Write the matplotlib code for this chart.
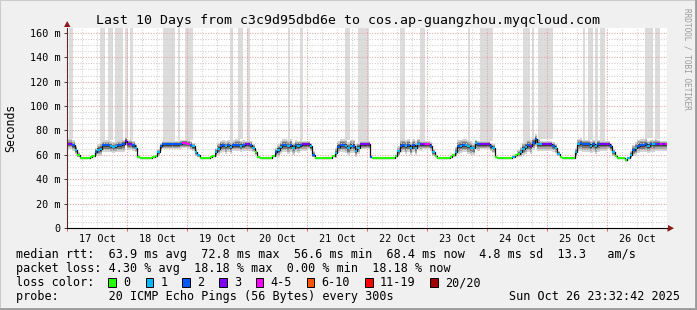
import matplotlib
matplotlib.use("Agg")
import matplotlib.pyplot as plt
from matplotlib.patches import Rectangle, Polygon
import numpy as np

# ---------------- data (hourly, 17 Oct 00:00 -> 27 Oct 00:00) ----------------
day_labels = ["17 Oct", "18 Oct", "19 Oct", "20 Oct", "21 Oct",
              "22 Oct", "23 Oct", "24 Oct", "25 Oct", "26 Oct"]
ytick_values = [0, 20, 40, 60, 80, 100, 120, 140, 160]
ytick_labels = ["0", "20 m", "40 m", "60 m", "80 m", "100 m", "120 m", "140 m", "160 m"]

median_ms = [
    # 17 Oct
    69, 69, 68, 64, 60, 57.5, 57.5, 57.5, 57.5, 58, 59, 62, 64, 65, 68, 68, 68, 67, 66.5, 67, 68, 68, 68.5, 71.5,
    # 18 Oct
    69, 69, 68, 66, 58.5, 57.5, 57.5, 57.5, 57.5, 57.5, 58, 59, 62, 67, 68.5, 68.5, 68.5, 68.5, 68.5, 68.5, 68.5, 69, 69.5, 69.5,
    # 19 Oct
    69, 68, 67, 62, 60, 57.5, 57.5, 57.5, 57.5, 58, 59, 62, 65, 67.5, 68, 67, 68, 66.5, 68, 68, 68, 67.5, 68, 68.5,
    # 20 Oct
    68.5, 68, 66, 62, 58, 57.7, 57.7, 57.7, 57.7, 57.7, 59, 62, 64, 66.5, 68, 68, 67, 68, 66, 68, 67.5, 68, 68.5, 68.5,
    # 21 Oct
    68.5, 67, 60, 57, 57, 57, 57, 57, 57, 57.5, 59, 61.5, 66.5, 68, 68, 67.5, 65.5, 67.5, 67.5, 63.5, 66, 68.5, 68.5, 68.5,
    # 22 Oct
    68.5, 58.5, 57, 57, 57, 57, 57, 57, 57, 57, 57, 59, 63, 67.5, 68, 67, 68, 65.5, 68, 66, 69, 68.5, 68.5, 68.5,
    # 23 Oct
    68.5, 67.5, 62, 59, 57.7, 57.7, 57.7, 57.7, 57.7, 58.5, 59.5, 62.5, 67, 67.5, 68, 68, 67, 66, 65.5, 69.5, 68.5, 68.5, 68.5, 68.5,
    # 24 Oct
    68.5, 67, 65.5, 58, 57, 57, 57, 57.5, 57.5, 57.5, 58.5, 59.5, 61, 62.5, 65, 66.5, 68, 67, 70, 72.7, 69, 68.5, 68.5, 68.5,
    # 25 Oct
    68.5, 68.5, 67.5, 65.5, 61, 58, 57.7, 57.7, 57.7, 57.7, 57.7, 62, 69, 69.5, 68.5, 68.5, 68.5, 67.5, 68.5, 67, 68.5, 68.5, 68.5, 68.5,
    # 26 Oct
    68.5, 67, 62, 59, 57.7, 57.5, 57, 56, 57.5, 60, 64, 65.5, 67.5, 68, 68, 68.5, 67.5, 68.5, 68.5, 69, 68.5, 68.5, 68.5, 68.5,
]

# lost pings (of 20) per hour
loss_pings = [
    3, 3, 2, 1, 0, 0, 0, 0, 0, 0, 0, 2, 1, 1, 2, 2, 2, 1, 1, 1, 2, 2, 2, 3,
    3, 3, 2, 1, 0, 0, 0, 0, 0, 0, 0, 0, 1, 2, 2, 2, 2, 2, 2, 2, 2, 2, 4, 4,
    4, 2, 1, 1, 1, 0, 0, 0, 0, 0, 0, 1, 1, 2, 2, 1, 2, 1, 2, 2, 2, 1, 2, 3,
    3, 2, 1, 0, 0, 0, 0, 0, 0, 0, 0, 2, 1, 1, 2, 2, 1, 2, 1, 2, 1, 2, 3, 3,
    3, 1, 2, 0, 0, 0, 0, 0, 0, 0, 0, 1, 2, 2, 2, 1, 1, 1, 2, 1, 1, 3, 3, 3,
    3, 2, 0, 0, 0, 0, 0, 0, 0, 0, 0, 0, 1, 2, 2, 1, 2, 1, 2, 1, 1, 3, 3, 4,
    4, 2, 1, 0, 0, 0, 0, 0, 0, 0, 0, 1, 2, 1, 2, 1, 1, 1, 1, 1, 2, 3, 3, 3,
    3, 2, 1, 0, 0, 0, 0, 0, 0, 0, 1, 0, 0, 1, 1, 1, 2, 3, 2, 2, 1, 1, 3, 3,
    3, 3, 2, 1, 1, 0, 0, 0, 0, 0, 0, 1, 1, 2, 2, 2, 2, 1, 2, 1, 2, 3, 3, 3,
    3, 2, 1, 0, 0, 0, 0, 0, 1, 1, 2, 1, 2, 2, 2, 2, 1, 2, 1, 2, 3, 4, 3, 4,
]

# smoke spread below / above the median (ms)
smoke_below = [
    4, 4, 5, 3, 2, .5, .5, .5, .5, .5, 1, 3, 5, 6, 6, 6, 6, 5, 5, 5, 6, 6, 6, 4,
    5, 5, 5, 4, 1, .5, .5, .5, .5, .5, .5, 1, 3, 4, 4, 4, 4, 4, 4, 4, 4, 4, 4, 4,
    4, 4, 4, 3, 2, .5, .5, .5, .5, .5, 1, 4, 5, 6, 6, 6, 6, 6, 5, 5, 5, 5, 5, 5,
    5, 5, 4, 2, 1, .5, .5, .5, .5, .5, 1, 4, 6, 6, 6, 6, 6, 6, 6, 6, 6, 5, 5, 5,
    4, 4, 2, .5, .5, .5, .5, .5, .5, .5, 1, 4, 5, 6, 6, 6, 6, 6, 6, 5, 5, 4, 4, 4,
    4, 1, .5, .5, .5, .5, .5, .5, .5, .5, .5, 1, 4, 6, 6, 6, 6, 6, 6, 6, 5, 5, 4, 4,
    4, 4, 3, 1, .5, .5, .5, .5, .5, 1, 1, 4, 6, 6, 6, 6, 6, 6, 6, 5, 5, 4, 4, 4,
    4, 4, 4, 1, .5, .5, .5, .5, .5, .5, 1, 1, 3, 4, 5, 6, 6, 6, 6, 6, 6, 5, 5, 5,
    5, 5, 5, 4, 2, 1, .5, .5, .5, .5, .5, 4, 6, 6, 6, 6, 6, 6, 6, 6, 6, 5, 5, 5,
    4, 4, 3, 1, .5, .5, .5, .5, 1, 3, 5, 6, 6, 6, 6, 6, 6, 6, 6, 6, 5, 5, 5, 5,
]
smoke_above = [
    4, 4, 4, 3, 2, .5, .5, .5, .5, .5, 1, 4, 5, 5, 4, 4, 4, 4, 4, 4, 4, 4, 4, 3,
    3, 3, 3, 3, 1, .5, .5, .5, .5, .5, .5, 1, 3, 3, 3, 3, 3, 3, 3, 3, 3, 3, 3, 3,
    3, 3, 3, 3, 1, .5, .5, .5, .5, .5, 1, 4, 5, 4, 4, 4, 4, 4, 4, 5, 5, 4, 4, 3,
    3, 3, 3, 2, 1, .5, .5, .5, .5, .5, 1, 4, 5, 5, 5, 5, 5, 5, 4, 4, 4, 4, 3, 3,
    3, 3, 3, .5, .5, .5, .5, .5, .5, .5, 1, 4, 5, 5, 5, 5, 5, 5, 5, 5, 4, 3, 3, 3,
    3, 1, .5, .5, .5, .5, .5, .5, .5, .5, .5, 1, 4, 5, 5, 5, 5, 5, 5, 5, 4, 3, 3, 3,
    3, 3, 3, 1, .5, .5, .5, .5, .5, 1, 1, 4, 5, 5, 5, 5, 5, 5, 4, 3, 3, 3, 3, 3,
    3, 3, 3, 1, .5, .5, .5, .5, .5, .5, 1, 1, 3, 4, 5, 5, 5, 5, 4, 4, 4, 3, 3, 3,
    3, 3, 3, 3, 2, 1, .5, .5, .5, .5, .5, 4, 4, 4, 4, 4, 4, 4, 4, 4, 4, 3, 3, 3,
    3, 3, 3, 1, .5, .5, .5, .5, 1, 3, 4, 5, 5, 5, 5, 5, 4, 4, 4, 4, 4, 3, 3, 3,
]

# intervals (hours since 17 Oct 00:00) where the slowest pings went off the chart
outlier_start_h = [0.8, 13.2, 16.4, 19.2, 23.2, 25.2, 38.4, 44.4, 47.2, 65.2, 68.4, 72.0,
                   88.4, 93.2, 111.2, 116.4, 133.2, 141.2, 160.4, 165.2, 182.4, 186.0,
                   188.4, 206.4, 208.4, 211.2, 213.2, 231.2, 235.2]
outlier_end_h = [2.4, 15.2, 18.4, 22.4, 24.4, 26.4, 43.2, 45.2, 50.4, 66.4, 70.4, 73.2,
                 89.2, 94.4, 113.2, 120.8, 135.2, 143.2, 161.2, 170.4, 185.2, 186.8,
                 194.4, 207.2, 210.4, 212.4, 215.2, 234.4, 237.2]

loss_labels = ["0", "1", "2", "3", "4-5", "6-10", "11-19", "20/20"]
loss_colors = ["#26ff00", "#00b8ff", "#0059ff", "#7e00ff", "#ff00ff", "#ff5500", "#ff0000", "#a10000"]

# ---------------- figure ----------------
W, H = 697, 310
MONO = "DejaVu Sans Mono"
fig = plt.figure(figsize=(W / 100, H / 100), dpi=100, facecolor="#f0f0f0")


def fx(x):
    return x / W


def fy(y):
    return 1 - y / H


ax = fig.add_axes([fx(67), fy(228), 600 / W, 200 / H])
ax.set_facecolor("white")
ax.set_xlim(0, 240)
ax.set_ylim(0, 164)

med = np.array(median_ms, dtype=float)
hours = np.arange(len(med))
edges = np.arange(len(med) + 1)
below = np.array(smoke_below, dtype=float)
above = np.array(smoke_above, dtype=float)

# off-chart smoke (tall light bars)
for s, e in zip(outlier_start_h, outlier_end_h):
    i = min(int(s), len(med) - 1)
    base = med[i] + above[i]
    ax.add_patch(Rectangle((s, base), e - s, 170 - base, facecolor="#dcdcdc",
                           edgecolor="none", zorder=1))

# smoke layers
layers = [(1.0, "#d4d4d4"), (0.72, "#a8a8a8"), (0.48, "#787878"), (0.25, "#454545")]
for f, c in layers:
    lo = np.append(med - f * below, med[-1] - f * below[-1])
    hi = np.append(med + f * above, med[-1] + f * above[-1])
    ax.fill_between(edges, lo, hi, step="post", color=c, lw=0, zorder=2)

# grid
dot = (0, (1, 1.5))
for v in range(5, 165, 5):
    if v % 20 == 0:
        ax.axhline(v, color="#e8a0a0", lw=0.75, ls=dot, zorder=3)
    else:
        ax.axhline(v, color="#d2d2d2", lw=0.75, ls=dot, zorder=3)
for hr in range(6, 240, 6):
    if hr % 24 == 0:
        ax.axvline(hr, color="#e8a0a0", lw=0.75, ls=dot, zorder=3)
    else:
        ax.axvline(hr, color="#d2d2d2", lw=0.75, ls=dot, zorder=3)

# median line
ax.plot(edges, np.append(med, med[-1]), drawstyle="steps-post", color="#101010", lw=0.9, zorder=4)
seg_colors = [loss_colors[0 if n == 0 else 1 if n == 1 else 2 if n == 2 else 3 if n == 3 else 4 if n <= 5
                          else 5 if n <= 10 else 6 if n < 20 else 7] for n in loss_pings]
ax.hlines(med, hours, hours + 1, colors=seg_colors, lw=1.5, zorder=5)

# axes styling
for sp in ["top", "right"]:
    ax.spines[sp].set_visible(False)
ax.spines["left"].set_color("#5a2a2a")
ax.spines["bottom"].set_color("#000000")
ax.spines["left"].set_linewidth(0.8)
ax.spines["bottom"].set_linewidth(0.8)
ax.spines["left"].set_zorder(6)
ax.spines["bottom"].set_zorder(6)

ax.set_yticks(ytick_values)
ax.set_yticklabels(ytick_labels, family=MONO, fontsize=7.3)
ax.tick_params(axis="y", length=2.5, width=0.7, color="#404040", pad=2.0)
noons = [12 + 24 * i for i in range(len(day_labels))]
ax.set_xticks(noons)
ax.set_xticklabels(day_labels, family=MONO, fontsize=7.3)
ax.tick_params(axis="x", which="major", length=0, pad=4.5)
ax.set_xticks([24 * i for i in range(11)], minor=True)
ax.tick_params(axis="x", which="minor", length=2, width=0.7, color="#e06060")

# arrows
fig.patches.append(Polygon([[fx(64), fy(27)], [fx(70.5), fy(27)], [fx(67.2), fy(21)]],
                           closed=True, transform=fig.transFigure, facecolor="#8b1a1a",
                           edgecolor="none"))
fig.patches.append(Polygon([[fx(668), fy(225)], [fx(668), fy(231.5)], [fx(674), fy(228.2)]],
                           closed=True, transform=fig.transFigure, facecolor="#8b1a1a",
                           edgecolor="none"))

# title & axis label
fig.text(fx(348.5), fy(24), "Last 10 Days from c3c9d95dbd6e to cos.ap-guangzhou.myqcloud.com",
         ha="center", va="baseline", family=MONO, fontsize=9.5)
fig.text(fx(11), fy(128), "Seconds", rotation=90, ha="center", va="center", family=MONO, fontsize=8.3)
fig.text(fx(687), fy(59), "RRDTOOL / TOBI OETIKER", rotation=270, ha="center", va="center",
         family=MONO, fontsize=5.6, color="#9a9a9a")

# legend
leg_size = 8.5
fig.text(fx(16), fy(258.3),
         "median rtt:  63.9 ms avg  72.8 ms max  56.6 ms min  68.4 ms now  4.8 ms sd  13.3   am/s",
         ha="left", va="baseline", family=MONO, fontsize=leg_size)
fig.text(fx(16), fy(272.2),
         "packet loss: 4.30 % avg  18.18 % max  0.00 % min  18.18 % now",
         ha="left", va="baseline", family=MONO, fontsize=leg_size)
fig.text(fx(16), fy(286), "loss color:", ha="left", va="baseline", family=MONO, fontsize=leg_size)
box_x = [108.3, 145.7, 182.3, 219, 255.7, 306.7, 365, 430]
for bx, lab, col in zip(box_x, loss_labels, loss_colors):
    fig.patches.append(Rectangle((fx(bx), fy(286.7)), 7.5 / W, 8.3 / H, transform=fig.transFigure,
                                 facecolor=col, edgecolor="black", lw=0.7))
    fig.text(fx(bx + 15), fy(286), lab, ha="left", va="baseline", family=MONO, fontsize=leg_size)
fig.text(fx(16), fy(300), "probe:       20 ICMP Echo Pings (56 Bytes) every 300s",
         ha="left", va="baseline", family=MONO, fontsize=leg_size)
fig.text(fx(680), fy(300), "Sun Oct 26 23:32:42 2025", ha="right", va="baseline",
         family=MONO, fontsize=leg_size)

# outer 3D frame
fig.patches.append(Rectangle((0, 0), 1, 1, transform=fig.transFigure, fill=False,
                             edgecolor="#cbcbcb", lw=1.5))
fig.lines.append(plt.Line2D([fx(1), fx(696)], [fy(308.8), fy(308.8)], transform=fig.transFigure,
                            color="#9a9a9a", lw=2.0))
fig.lines.append(plt.Line2D([fx(695.8), fx(695.8)], [fy(1), fy(309)], transform=fig.transFigure,
                            color="#9a9a9a", lw=2.0))

fig.savefig("out.png", dpi=100, facecolor=fig.get_facecolor())
